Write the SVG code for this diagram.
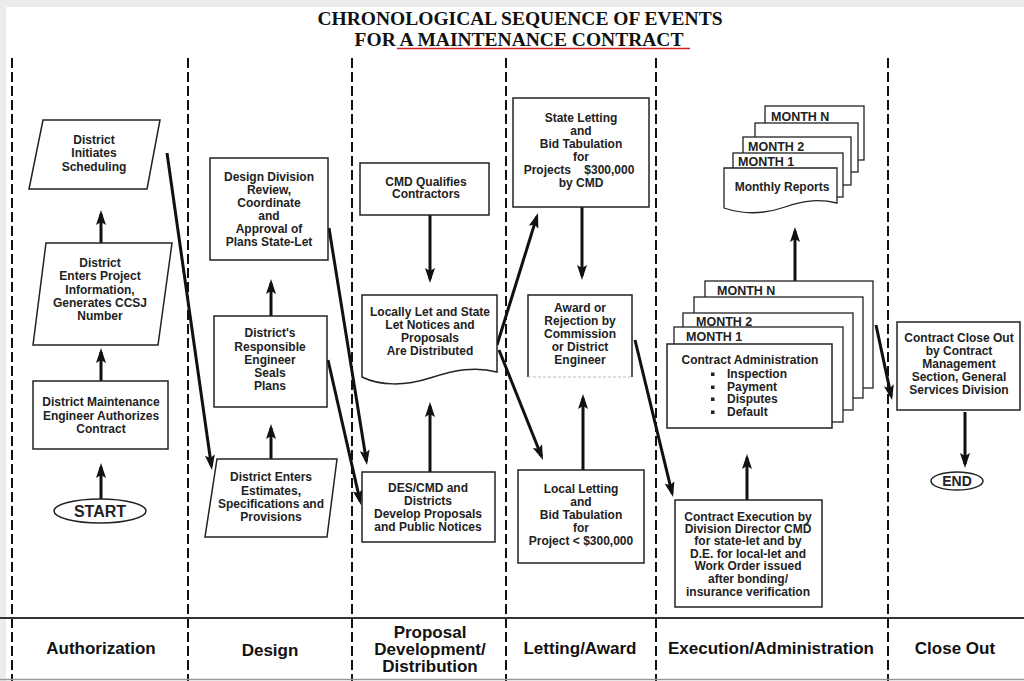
<svg xmlns="http://www.w3.org/2000/svg" width="1024" height="681" viewBox="0 0 1024 681">
<defs>
<style>
.box{fill:#fff;stroke:#222;stroke-width:1.5}
.sheet{fill:#fff;stroke:#222;stroke-width:1.3}
.t{font-family:"Liberation Sans",Arial,sans-serif;font-weight:bold;font-size:12px;fill:#222;text-anchor:middle}
.tl{font-family:"Liberation Sans",Arial,sans-serif;font-weight:bold;font-size:12px;fill:#222;text-anchor:start}
.mo{font-size:12.5px}
.lbl{font-family:"Liberation Sans",Arial,sans-serif;font-weight:bold;font-size:17px;fill:#111;text-anchor:middle}
.title{font-family:"Liberation Serif","Times New Roman",serif;font-weight:bold;font-size:19.5px;text-anchor:middle;fill:#111}
.dash{stroke:#111;stroke-width:2;stroke-dasharray:10 4;fill:none}
.arr{stroke:#111;stroke-width:3;fill:none;marker-end:url(#ah)}
</style>
<marker id="ah" viewBox="0 0 15 10" refX="11" refY="5" markerWidth="15" markerHeight="10" orient="auto" markerUnits="userSpaceOnUse"><path d="M0,0 L15,5 L0,10 L3,5 Z" fill="#111"/></marker>
</defs>
<rect x="0" y="0" width="1024" height="681" fill="#ececec"/>
<rect x="6" y="7" width="1018" height="674" fill="#fff"/>

<g id="title">
<text class="title" x="520" y="25">CHRONOLOGICAL SEQUENCE OF EVENTS</text>
<text class="title" x="519" y="46">FOR A MAINTENANCE CONTRACT</text>
<line x1="397" y1="48.5" x2="690" y2="48.5" stroke="#d42020" stroke-width="1.5"/>
</g>

<g id="lanes">
<line class="dash" x1="12" y1="58" x2="12" y2="681"/>
<line class="dash" x1="188" y1="58" x2="188" y2="681"/>
<line class="dash" x1="352" y1="58" x2="352" y2="681"/>
<line class="dash" x1="506" y1="58" x2="506" y2="681"/>
<line class="dash" x1="656" y1="58" x2="656" y2="681"/>
<line class="dash" x1="888" y1="58" x2="888" y2="681"/>
<line x1="0" y1="618" x2="1024" y2="618" stroke="#333" stroke-width="2"/>
<line x1="0" y1="679.5" x2="1024" y2="679.5" stroke="#999" stroke-width="1.5"/>
</g>

<g id="lane-labels">
<text class="lbl" x="101" y="654">Authorization</text>
<text class="lbl" x="270" y="656">Design</text>
<text class="lbl" x="430" y="638">Proposal</text>
<text class="lbl" x="430" y="655">Development/</text>
<text class="lbl" x="430" y="672">Distribution</text>
<text class="lbl" x="580" y="654">Letting/Award</text>
<text class="lbl" x="771" y="654">Execution/Administration</text>
<text class="lbl" x="955" y="654">Close Out</text>
</g>

<g id="connectors">
<line class="arr" x1="101" y1="499" x2="101" y2="467"/>
<line class="arr" x1="101" y1="381" x2="101" y2="352"/>
<line class="arr" x1="101" y1="243" x2="101" y2="214"/>
<line class="arr" x1="167" y1="153" x2="211.4" y2="466"/>
<line class="arr" x1="271" y1="459" x2="271" y2="428"/>
<line class="arr" x1="271" y1="316" x2="271" y2="283"/>
<line class="arr" x1="329" y1="228" x2="366.4" y2="461.1"/>
<line class="arr" x1="328" y1="360" x2="360.1" y2="501.1"/>
<line class="arr" x1="430" y1="215" x2="430" y2="279"/>
<line class="arr" x1="430" y1="472" x2="430" y2="406"/>
<line class="arr" x1="497" y1="345" x2="536.8" y2="216.8"/>
<line class="arr" x1="499" y1="350" x2="541.5" y2="456.3"/>
<line class="arr" x1="582" y1="207" x2="582" y2="276"/>
<line class="arr" x1="583" y1="470" x2="583" y2="398"/>
<line class="arr" x1="635" y1="340" x2="672.1" y2="493.1"/>
<line class="arr" x1="747" y1="500" x2="747" y2="458"/>
<line class="arr" x1="795" y1="281" x2="795" y2="231"/>
<line class="arr" x1="876" y1="325" x2="891.2" y2="396.1"/>
<line class="arr" x1="965" y1="412" x2="965" y2="464"/>
</g>

<g id="start">
<ellipse class="box" cx="100" cy="511" rx="46" ry="12"/>
<text class="t" x="100" y="517" style="font-size:16px">START</text>
</g>

<g id="dme-authorizes">
<rect class="box" x="33" y="381" width="135" height="68"/>
<text class="t" x="101" y="406">District Maintenance</text>
<text class="t" x="101" y="420">Engineer Authorizes</text>
<text class="t" x="101" y="433">Contract</text>
</g>

<g id="enters-project-info">
<polygon class="box" points="46,243 172,243 158,345 33,345"/>
<text class="t" x="100" y="267">District</text>
<text class="t" x="100" y="280">Enters Project</text>
<text class="t" x="100" y="294">Information,</text>
<text class="t" x="100" y="307">Generates CCSJ</text>
<text class="t" x="100" y="320">Number</text>
</g>

<g id="initiates-scheduling">
<polygon class="box" points="43,120 160,120 147,189 29,189"/>
<text class="t" x="94" y="144">District</text>
<text class="t" x="94" y="157">Initiates</text>
<text class="t" x="94" y="171">Scheduling</text>
</g>

<g id="estimates">
<polygon class="box" points="217,459 337,459 327,537 205,537"/>
<text class="t" x="271" y="481">District Enters</text>
<text class="t" x="271" y="495">Estimates,</text>
<text class="t" x="271" y="508">Specifications and</text>
<text class="t" x="271" y="521">Provisions</text>
</g>

<g id="seals-plans">
<rect class="box" x="214" y="316" width="113" height="91"/>
<text class="t" x="270" y="337">District's</text>
<text class="t" x="270" y="351">Responsible</text>
<text class="t" x="270" y="364">Engineer</text>
<text class="t" x="270" y="377">Seals</text>
<text class="t" x="270" y="390">Plans</text>
</g>

<g id="design-review">
<rect class="box" x="210" y="158" width="118" height="102"/>
<text class="t" x="269" y="181">Design Division</text>
<text class="t" x="269" y="194">Review,</text>
<text class="t" x="269" y="207">Coordinate</text>
<text class="t" x="269" y="220">and</text>
<text class="t" x="269" y="233">Approval of</text>
<text class="t" x="269" y="246">Plans State-Let</text>
</g>

<g id="cmd-qualifies">
<rect class="box" x="360" y="163" width="129" height="52"/>
<text class="t" x="426" y="186">CMD Qualifies</text>
<text class="t" x="426" y="198">Contractors</text>
</g>

<g id="notices-distributed">
<path class="box" d="M362,295 H497 V372 C475,366 455,370 430,378 C405,386 380,386 362,377 Z"/>
<text class="t" x="430" y="316">Locally Let and State</text>
<text class="t" x="430" y="329">Let Notices and</text>
<text class="t" x="430" y="342">Proposals</text>
<text class="t" x="430" y="355">Are Distributed</text>
</g>

<g id="develop-proposals">
<rect class="box" x="362" y="472" width="133" height="70"/>
<text class="t" x="428" y="492">DES/CMD and</text>
<text class="t" x="428" y="505">Districts</text>
<text class="t" x="428" y="518">Develop Proposals</text>
<text class="t" x="428" y="531">and Public Notices</text>
</g>

<g id="state-letting">
<rect class="box" x="513" y="98" width="136" height="109"/>
<text class="t" x="581" y="122">State Letting</text>
<text class="t" x="581" y="135">and</text>
<text class="t" x="581" y="148">Bid Tabulation</text>
<text class="t" x="581" y="161">for</text>
<text class="t" x="579" y="174" style="white-space:pre">Projects    $300,000</text>
<text class="t" x="581" y="187">by CMD</text>
</g>

<g id="award">
<path d="M528,377 V295 H632 V377" fill="#fff" stroke="#222" stroke-width="1.5"/>
<line x1="528" y1="377" x2="632" y2="377" stroke="#bbb" stroke-width="1" stroke-dasharray="3 2"/>
<text class="t" x="580" y="312">Award or</text>
<text class="t" x="580" y="325">Rejection by</text>
<text class="t" x="580" y="338">Commission</text>
<text class="t" x="580" y="351">or District</text>
<text class="t" x="580" y="364">Engineer</text>
</g>

<g id="local-letting">
<rect class="box" x="518" y="470" width="126" height="93"/>
<text class="t" x="581" y="493">Local Letting</text>
<text class="t" x="581" y="506">and</text>
<text class="t" x="581" y="519">Bid Tabulation</text>
<text class="t" x="581" y="532">for</text>
<text class="t" x="581" y="545">Project &lt; $300,000</text>
</g>

<g id="monthly-reports">
<rect class="sheet" x="765" y="106" width="99" height="54"/>
<text class="tl mo" x="771" y="121">MONTH N</text>
<rect class="sheet" x="755" y="123" width="103" height="49"/>
<rect class="sheet" x="743" y="137" width="108" height="48"/>
<text class="tl mo" x="748" y="151">MONTH 2</text>
<rect class="sheet" x="733" y="153" width="110" height="44"/>
<text class="tl mo" x="738" y="166">MONTH 1</text>
<path class="sheet" d="M724,168 H837 V203 C820,199 805,200 785,207 C765,214 745,215 724,208 Z"/>
<text class="t" x="782" y="191">Monthly Reports</text>
</g>

<g id="contract-administration">
<rect class="sheet" x="705" y="281" width="168" height="107"/>
<text class="tl mo" x="717" y="295">MONTH N</text>
<rect class="sheet" x="694" y="297" width="169" height="101"/>
<rect class="sheet" x="683" y="313" width="170" height="97"/>
<text class="tl mo" x="696" y="326">MONTH 2</text>
<rect class="sheet" x="674" y="327" width="169" height="95"/>
<text class="tl mo" x="686" y="341">MONTH 1</text>
<rect class="box" x="667" y="344" width="165" height="84"/>
<text class="t" x="750" y="364">Contract Administration</text>
<rect x="711" y="372.5" width="3.5" height="3.5" fill="#222"/>
<text class="tl" x="727" y="378">Inspection</text>
<rect x="711" y="385.5" width="3.5" height="3.5" fill="#222"/>
<text class="tl" x="727" y="391">Payment</text>
<rect x="711" y="397.5" width="3.5" height="3.5" fill="#222"/>
<text class="tl" x="727" y="403">Disputes</text>
<rect x="711" y="410.5" width="3.5" height="3.5" fill="#222"/>
<text class="tl" x="727" y="416">Default</text>
</g>

<g id="contract-execution">
<rect class="box" x="675" y="500" width="147" height="107"/>
<text class="t" x="748" y="521">Contract Execution by</text>
<text class="t" x="748" y="533">Division Director CMD</text>
<text class="t" x="748" y="545">for state-let and by</text>
<text class="t" x="748" y="558">D.E. for local-let and</text>
<text class="t" x="748" y="570">Work Order issued</text>
<text class="t" x="748" y="583">after bonding/</text>
<text class="t" x="748" y="596">insurance verification</text>
</g>

<g id="close-out">
<rect class="box" x="897" y="322" width="123" height="88"/>
<text class="t" x="959" y="342">Contract Close Out</text>
<text class="t" x="959" y="355">by Contract</text>
<text class="t" x="959" y="368">Management</text>
<text class="t" x="959" y="381">Section, General</text>
<text class="t" x="959" y="394">Services Division</text>
</g>

<g id="end">
<ellipse class="box" cx="957" cy="481" rx="26" ry="9"/>
<text class="t" x="957" y="486" style="font-size:14px">END</text>
</g>
</svg>
